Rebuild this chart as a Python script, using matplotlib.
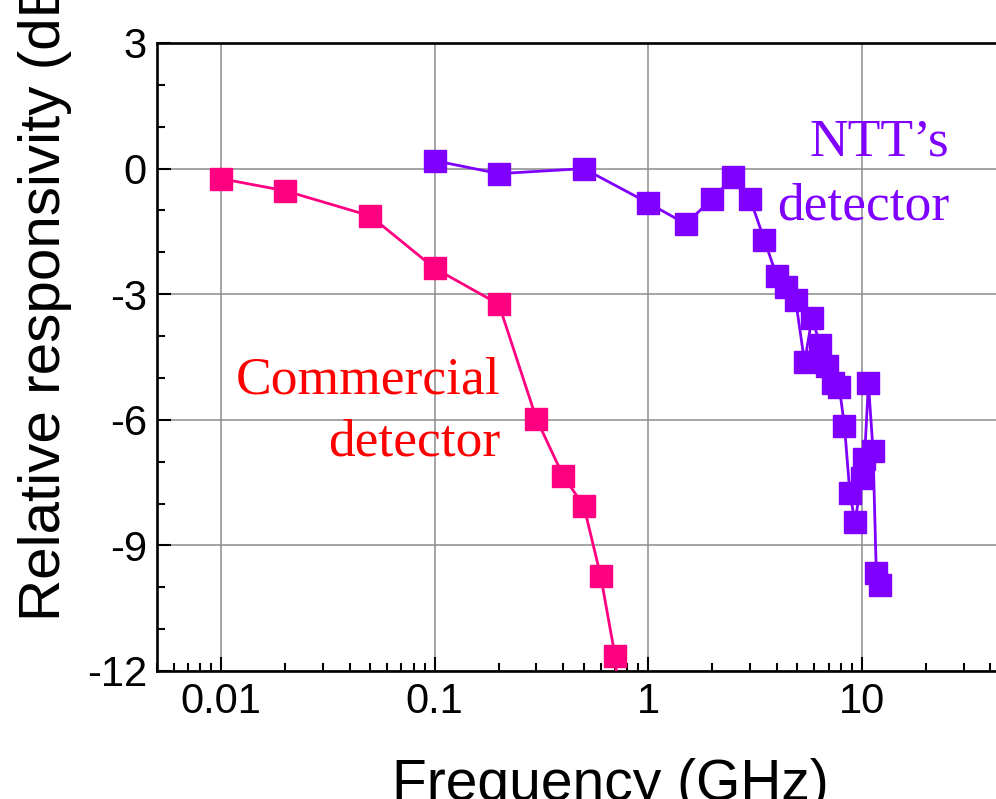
import numpy as np
import matplotlib
matplotlib.use("Agg")
import matplotlib.pyplot as plt
from matplotlib.ticker import FixedLocator, MultipleLocator, LogLocator, NullFormatter

plt.rcParams["font.family"] = ["Liberation Sans", "DejaVu Sans"]
plt.rcParams["axes.unicode_minus"] = False

# commercial detector
comm_freq = [0.01, 0.02, 0.05, 0.1, 0.2, 0.3, 0.4, 0.5, 0.6, 0.7, 0.75]
comm_resp = [-0.24, -0.53, -1.13, -2.38, -3.24, -5.98, -7.34, -8.06, -9.74, -11.64, -13.5]

# NTT's detector
ntt_freq = [0.1, 0.2, 0.5, 1.0, 1.5, 2.0, 2.5, 3.0, 3.5, 4.0, 4.4, 4.9, 5.4, 5.85,
            6.4, 6.85, 7.3, 7.85, 8.3, 8.8, 9.3, 10.0, 10.3, 10.75, 11.3, 11.7, 12.2]
ntt_resp = [0.19, -0.12, 0.0, -0.82, -1.32, -0.72, -0.2, -0.72, -1.7, -2.57, -2.82, -3.13,
            -4.62, -3.57, -4.22, -4.72, -5.12, -5.22, -6.14, -7.74, -8.45, -7.4, -6.94,
            -5.13, -6.74, -9.65, -9.95]

x_ticks = [0.01, 0.1, 1, 10]
x_tick_labels = ["0.01", "0.1", "1", "10"]
y_ticks = [-12, -9, -6, -3, 0, 3]

PINK = "#ff0080"
PURPLE = "#8000ff"

W, H = 996, 799
fig = plt.figure(figsize=(W / 100, H / 100), dpi=100)

left, right, top, bottom = 156.7, 1011.0, 43.0, 671.0
ax = fig.add_axes([left / W, 1 - bottom / H, (right - left) / W, (bottom - top) / H])

ax.set_xscale("log")
ax.set_xlim(0.005, 50)
ax.set_ylim(-12, 3)

ax.grid(True, which="major", color="#8c8c8c", linewidth=1.1, zorder=0)
ax.set_axisbelow(True)

ax.plot(comm_freq, comm_resp, color=PINK, linewidth=2.0, marker="s",
        markersize=16.5, markeredgecolor=PINK, zorder=3)
ax.plot(ntt_freq, ntt_resp, color=PURPLE, linewidth=2.0, marker="s",
        markersize=16.5, markeredgecolor=PURPLE, zorder=4)

ax.xaxis.set_major_locator(FixedLocator(x_ticks))
ax.set_xticklabels(x_tick_labels)
ax.xaxis.set_minor_locator(LogLocator(base=10, subs=np.arange(2, 10)))
ax.xaxis.set_minor_formatter(NullFormatter())
ax.set_yticks(y_ticks)
ax.set_yticklabels([str(v) for v in y_ticks])
ax.yaxis.set_minor_locator(MultipleLocator(1))

ax.tick_params(which="both", direction="in", width=1.5, labelsize=30,
               top=False, right=False)
ax.tick_params(which="major", length=10)
ax.tick_params(which="minor", length=5.5)
ax.tick_params(axis="x", which="major", pad=8)
ax.tick_params(axis="y", which="major", pad=7)

for side in ["left", "bottom", "top"]:
    ax.spines[side].set_linewidth(1.9)
ax.spines["right"].set_visible(False)

ax.set_xlabel("Frequency (GHz)", fontsize=41, va="baseline")
ax.xaxis.set_label_coords((610 - left) / (right - left), (bottom - 800) / (bottom - top))
ax.set_ylabel("Relative responsivity (dB)", fontsize=42, ha="left", va="baseline")
ax.yaxis.set_label_coords((60 - left) / (right - left), (bottom - 621) / (bottom - top))


def px_text(x, y, s, color):
    fig.text(x / W, 1 - y / H, s, color=color, fontsize=38.5, ha="right", va="baseline",
             family=["Liberation Serif", "DejaVu Serif"])


px_text(500, 393, "Commercial", "#ff0000")
px_text(500, 456, "detector", "#ff0000")
px_text(949, 156, "NTT\u2019s", PURPLE)
px_text(949, 220, "detector", PURPLE)

fig.savefig("out.png", dpi=100)
